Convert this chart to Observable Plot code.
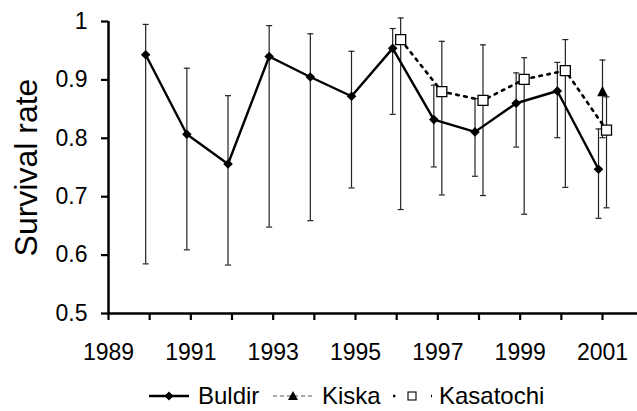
<!DOCTYPE html>
<html><head><meta charset="utf-8">
<script src="https://cdn.jsdelivr.net/npm/d3@7"></script>
<script src="https://cdn.jsdelivr.net/npm/@observablehq/plot@0.6"></script>
<style>
body{margin:0;background:#fff;font-family:"Liberation Sans",Arial,sans-serif;}
#wrap{position:relative;width:637px;height:411px;overflow:hidden;}
.lg{position:absolute;top:386px;display:flex;align-items:center;font-size:24px;line-height:20px;height:20px;color:#000;white-space:nowrap;}
.lg svg{display:block;}
</style></head><body><div id="wrap"></div>
<script>
// ---- data ----
const buldirYears = [1990,1991,1992,1993,1994,1995,1996,1997,1998,1999,2000,2001];
const buldirRate  = [0.943,0.807,0.756,0.940,0.905,0.872,0.954,0.832,0.811,0.860,0.881,0.747];
const buldirLow   = [0.585,0.609,0.583,0.648,0.659,0.715,0.841,0.751,0.735,0.785,0.801,0.663];
const buldirHigh  = [0.995,0.920,0.873,0.993,0.979,0.949,0.988,0.891,0.868,0.912,0.930,0.816];

const kiskaYears = [2001];
const kiskaRate  = [0.881];
const kiskaLow   = [0.801];
const kiskaHigh  = [0.934];

const kasYears = [1996,1997,1998,1999,2000,2001];
const kasRate  = [0.969,0.880,0.865,0.901,0.916,0.814];
const kasLow   = [0.678,0.703,0.702,0.670,0.716,0.681];
const kasHigh  = [1.006,0.966,0.960,0.938,0.969,0.871];

const yTicks = [0.5,0.6,0.7,0.8,0.9,1];
const xTicks = [1989,1990,1991,1992,1993,1994,1995,1996,1997,1998,1999,2000,2001];
const seriesNames = ["Buldir","Kiska","Kasatochi"];

const table = (years, rate, low, high) => years.map((year,i)=>({year, rate:rate[i], low:low[i], high:high[i]}));
const buldir = table(buldirYears, buldirRate, buldirLow, buldirHigh);
const kiska = table(kiskaYears, kiskaRate, kiskaLow, kiskaHigh);
const kas = table(kasYears, kasRate, kasLow, kasHigh);

// ---- symbols ----
const R = s => Math.sqrt(s/Math.PI);
const diamond = {draw(c,s){const r=R(s);c.moveTo(0,-r);c.lineTo(r,0);c.lineTo(0,r);c.lineTo(-r,0);c.closePath();}};
const square = {draw(c,s){const r=R(s);c.rect(-r,-r,2*r,2*r);}};
const triangle = {draw(c,s){const r=R(s);c.moveTo(0,-r);c.lineTo(r,r);c.lineTo(-r,r);c.closePath();}};
const cap = {draw(c,s){const r=R(s);c.moveTo(-r,0);c.lineTo(r,0);}};

const errMarks = (data, dx) => [
  Plot.ruleX(data, {x:"year", y1:"low", y2:"high", dx, stroke:"#222", strokeWidth:1.2}),
  Plot.dot(data, {x:"year", y:"low", dx, symbol:cap, r:3, stroke:"#222", strokeWidth:1.2}),
  Plot.dot(data, {x:"year", y:"high", dx, symbol:cap, r:3, stroke:"#222", strokeWidth:1.2})
];

const chart = Plot.plot({
  width: 637, height: 372,
  marginLeft: 108, marginRight: 0, marginTop: 21, marginBottom: 59,
  style: {fontFamily: '"Liberation Sans", Arial, sans-serif', color: "#000", background: "#fff", overflow: "visible"},
  x: {domain: [1989, 2001.85]},
  y: {domain: [0.5, 1]},
  marks: [
    ...errMarks(buldir, -4),
    ...errMarks(kas, 4),
    ...errMarks(kiska, 0),
    Plot.line(kas, {x:"year", y:"rate", dx:4, stroke:"#000", strokeWidth:2.6, strokeDasharray:"2.6,5.5"}),
    Plot.line(buldir, {x:"year", y:"rate", dx:-4, stroke:"#000", strokeWidth:2.4}),
    Plot.dot(buldir, {x:"year", y:"rate", dx:-4, symbol:diamond, r:4.8, fill:"#000"}),
    Plot.dot(kas, {x:"year", y:"rate", dx:4, symbol:square, r:5, fill:"#fff", stroke:"#000", strokeWidth:1.3}),
    Plot.dot(kiska, {x:"year", y:"rate", symbol:triangle, r:5.3, fill:"#000"}),
    Plot.ruleX([1989], {stroke:"#000", strokeWidth:2.5}),
    Plot.ruleY([0.5], {stroke:"#000", strokeWidth:2.5}),
    Plot.axisY({ticks: yTicks, tickFormat: d => String(d), tickSize: 7, tickPadding: 14, fontSize: 23, strokeWidth: 2.2, label: null}),
    Plot.axisY({ticks: [], label: "Survival rate", labelAnchor: "center", labelArrow: "none", labelOffset: 94, fontSize: 32}),
    Plot.axisX({ticks: xTicks, tickFormat: d => d % 2 ? String(d) : "", tickSize: 7, tickPadding: 23, fontSize: 23, strokeWidth: 2.2, label: null})
  ]
});
const wrap = document.getElementById("wrap");
wrap.appendChild(chart);

// ---- legend ----
const sw = (kind) => {
  const w = 40, h = 20, m = h/2;
  let s = `<svg width="${w}" height="${h}" viewBox="0 0 ${w} ${h}">`;
  if (kind === 0) {
    s += `<line x1="0" x2="${w}" y1="${m}" y2="${m}" stroke="#000" stroke-width="2.4"/>`;
    s += `<path d="M20,${m-4.5}L24.5,${m}L20,${m+4.5}L15.5,${m}Z" fill="#000"/>`;
  } else if (kind === 1) {
    s += `<line x1="0" x2="${w}" y1="${m}" y2="${m}" stroke="#555" stroke-width="1" stroke-dasharray="4,3"/>`;
    s += `<path d="M20,${m-5}L25,${m+4}L15,${m+4}Z" fill="#000"/>`;
  } else {
    s += `<line x1="1" x2="${w}" y1="${m}" y2="${m}" stroke="#000" stroke-width="2.4" stroke-dasharray="2.4,16.6"/>`;
    s += `<rect x="16" y="${m-4}" width="8" height="8" fill="#fff" stroke="#000" stroke-width="1.1"/>`;
  }
  return s + `</svg>`;
};
const lefts = [149, 273, 392];
const gaps = [9, 9, 7];
seriesNames.forEach((name, i) => {
  const d = document.createElement("div");
  d.className = "lg";
  d.style.left = lefts[i] + "px";
  d.innerHTML = sw(i) + `<span style="margin-left:${gaps[i]}px">${name}</span>`;
  wrap.appendChild(d);
});
</script>
</body></html>
